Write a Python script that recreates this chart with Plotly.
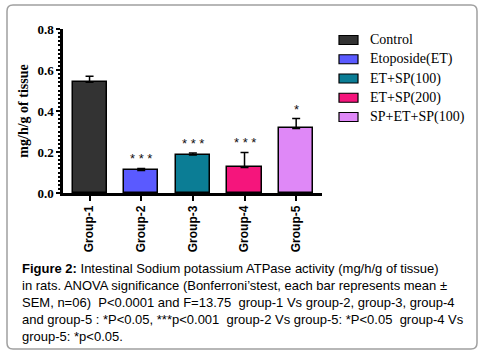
import plotly.graph_objects as go

categories = ["Group-1", "Group-2", "Group-3", "Group-4", "Group-5"]
series_names = ["Control", "Etoposide(ET)", "ET+SP(100)", "ET+SP(200)", "SP+ET+SP(100)"]
means = [0.54, 0.11, 0.185, 0.125, 0.315]
sems = [0.03, 0.01, 0.01, 0.073, 0.048]
significance = ["", "***", "***", "***", "*"]
colors = ["#333333", "#5a5aff", "#0b7d95", "#f5157c", "#df88f7"]
y_ticks = [0.0, 0.2, 0.4, 0.6, 0.8]

caption_lines = [
    "<b>Figure 2:</b> Intestinal Sodium potassium ATPase activity (mg/h/g of tissue)",
    "in rats. ANOVA significance (Bonferroni\u2019stest, each bar represents mean \u00b1",
    "SEM, n=06)\u00a0 P&lt;0.0001 and F=13.75\u00a0 group-1 Vs group-2, group-3, group-4",
    "and group-5 : *P&lt;0.05, ***p&lt;0.001\u00a0 group-2 Vs group-5: *P&lt;0.05\u00a0 group-4 Vs",
    "group-5: *p&lt;0.05.",
]

# plot area in pixels: x 63..322, y 29 (top) .. 193 (bottom)
PW, PH = 259, 164
def px_x(x):
    return (x - 63) / PW
def px_y(y):
    return (193 - y) / PH

fig = go.Figure()
for cat, name, m, s, c in zip(categories, series_names, means, sems, colors):
    fig.add_trace(go.Bar(
        x=[cat], y=[m], name=name, width=0.66, showlegend=False,
        marker=dict(color=c, line=dict(color="black", width=1.5)),
        error_y=dict(type="data", array=[s], arrayminus=[0], symmetric=False,
                     color="black", thickness=1.5, width=4),
    ))

for cat, m, s, sig in zip(categories, means, sems, significance):
    if sig:
        fig.add_annotation(x=cat, y=m + s, text=" ".join(sig), showarrow=False,
                           yanchor="bottom", yshift=0,
                           font=dict(family="Liberation Sans", size=13, color="#111111"))

# manual legend (layout positions)
for i, (name, c) in enumerate(zip(series_names, colors)):
    yc = 40 + i * 19.25
    fig.add_shape(type="rect", xref="paper", yref="paper",
                  x0=px_x(339), x1=px_x(358), y0=px_y(yc - 4.5), y1=px_y(yc + 4.5),
                  fillcolor=c, line=dict(color="black", width=1.2))
    fig.add_annotation(xref="paper", yref="paper", x=px_x(368), y=px_y(yc),
                       xanchor="left", yanchor="middle", showarrow=False, text=name,
                       font=dict(family="Liberation Serif", size=14, color="black"))

# border box (rounded) in paper coordinates
L, R, T, B = px_x(7), px_x(477), px_y(5), px_y(349)
rx, ry = 6 / PW, 6 / PH
path = (f"M {L+rx},{T} L {R-rx},{T} Q {R},{T} {R},{T-ry} L {R},{B+ry} Q {R},{B} {R-rx},{B} "
        f"L {L+rx},{B} Q {L},{B} {L},{B+ry} L {L},{T-ry} Q {L},{T} {L+rx},{T} Z")
fig.add_shape(type="path", path=path, xref="paper", yref="paper",
              line=dict(color="#a0a0a0", width=1.5), layer="below")

fig.add_annotation(xref="paper", yref="paper", x=px_x(20), y=px_y(259),
                   xanchor="left", yanchor="top", align="left", showarrow=False,
                   text="<br>".join(caption_lines),
                   font=dict(family="Liberation Sans", size=13, color="black"))

fig.update_layout(
    width=483, height=356,
    margin=dict(l=63, r=161, t=29, b=163),
    plot_bgcolor="white", paper_bgcolor="white",
    barmode="overlay", bargap=0,
    showlegend=False,
    xaxis=dict(type="category", categoryorder="array", categoryarray=categories,
               range=[-0.514, 4.5], showline=True, linecolor="black", linewidth=2.5,
               ticks="outside", ticklen=5, tickwidth=2, tickcolor="black",
               tickangle=-90, showgrid=False,
               tickfont=dict(family="Liberation Sans", size=12, color="black", weight="bold")),
    yaxis=dict(range=[0, 0.8], tickvals=y_ticks, tickformat=".1f",
               showline=True, linecolor="black", linewidth=2.5,
               ticks="outside", ticklen=4, tickwidth=2, tickcolor="black",
               showgrid=False, zeroline=False,
               minor=dict(ticks="outside", dtick=0.02, ticklen=2, tickwidth=1.5, tickcolor="black", showgrid=False),
               tickfont=dict(family="Liberation Serif", size=13, color="black", weight="bold"),
               title=dict(text="mg/h/g of tissue", standoff=6,
                          font=dict(family="Liberation Serif", size=14, color="black", weight="bold"))),
)

fig.write_html("out.html", config={"displayModeBar": False},
               post_script="document.body.style.margin='0';")
